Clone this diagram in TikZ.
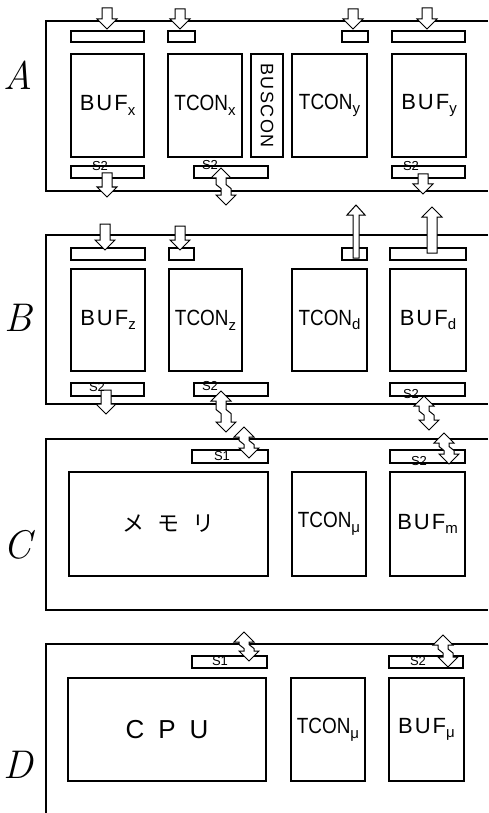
\documentclass[tikz,border=0pt]{standalone}
\usepackage{fontspec}
\newfontfamily\hand{Liberation Sans}
\newfontfamily\cjkfont{Noto Sans CJK JP}
\newcommand\subs[1]{\raisebox{-0.4ex}{\fontsize{15}{15}\selectfont #1}}
\newcommand\bufl[1]{B\hspace{2pt}U\hspace{2pt}F\subs{#1}}
\newcommand\tconl[1]{\scalebox{0.86}[1]{TCON}\subs{#1}}
\tikzset{
  frame/.style={line width=1.2pt, line join=miter},
  box/.style={draw, line width=1.1pt, inner sep=0pt, font=\hand\fontsize{22}{24}\selectfont},
  bar/.style={draw, line width=1.1pt, inner sep=0pt},
  blk/.style={draw, fill=white, line width=1pt, line join=miter},
  sig/.style={font=\hand\fontsize{13}{13}\selectfont, inner sep=0pt},
  sect/.style={font=\itshape\fontsize{40}{40}\selectfont, inner sep=0pt},
  pics/dn/.style={code={\draw[blk] (0,0) -- (10,-10) -- (5,-10) -- (5,-#1) -- (-5,-#1) -- (-5,-10) -- (-10,-10) -- cycle;}},
  pics/upa/.style={code={\draw[blk] (0,0) -- (10,10) -- (5,10) -- (5,#1) -- (-5,#1) -- (-5,10) -- (-10,10) -- cycle;}},
  pics/upthin/.style={code={\draw[blk] (0,0) -- (9,10) -- (3,10) -- (3,#1) -- (-3,#1) -- (-3,10) -- (-9,10) -- cycle;}},
  pics/dbl/.style={code={\draw[blk] (0,0) -- (10,10) -- (5,10) -- (5,{#1/2-2}) -- (10,{#1/2+2}) -- (10,{#1-10}) -- (15,{#1-10}) -- (5,#1) -- (-5,{#1-10}) -- (0,{#1-10}) -- (0,{#1/2+2}) -- (-5,{#1/2-2}) -- (-5,10) -- (-10,10) -- cycle;}},
}
\begin{document}
\begin{tikzpicture}[x=1pt, y=-1pt]
\useasboundingbox (0,0) rectangle (488,813);
\fill[white] (0,0) rectangle (488,813);

% ---------------- section A ----------------
\node[sect] (lA) at (18,75) {A};
\coordinate (fA1) at (488,21); \coordinate (fA2) at (46,21);
\coordinate (fA3) at (46,191); \coordinate (fA4) at (488,191);
\draw[frame] (fA1) -- (fA2) -- (fA3) -- (fA4);

\node[bar, minimum width=73, minimum height=11] (tAx)  at (107.5,36.5) {};
\node[bar, minimum width=27, minimum height=11] (tAtx) at (181.5,36.5) {};
\node[bar, minimum width=26, minimum height=11] (tAty) at (355,36.5) {};
\node[bar, minimum width=73, minimum height=11] (tAy)  at (428.5,36.5) {};

\node[box, minimum width=73, minimum height=103] (bufx)   at (107.5,105.5) {\bufl{x}};
\node[box, minimum width=74, minimum height=103] (tconx)  at (205,105.5) {\tconl{x}};
\node[box, minimum width=32, minimum height=103] (buscon) at (267,105.5) {\rotatebox{-90}{\fontsize{18}{18}\selectfont B\hspace{1.5pt}U\hspace{1.5pt}S\hspace{1.5pt}C\hspace{1.5pt}O\hspace{1.5pt}N}};
\node[box, minimum width=75, minimum height=103] (tcony)  at (329.5,105.5) {\tconl{y}};
\node[box, minimum width=74, minimum height=103] (bufy)   at (429,105.5) {\bufl{y}};

\node[bar, minimum width=73, minimum height=12] (bAx)  at (107.5,172) {};
\node[bar, minimum width=74, minimum height=12] (bAtx) at (231,172) {};
\node[bar, minimum width=73, minimum height=12] (bAy)  at (428.5,172) {};

\pic at (107,29) {dn=21};
\pic at (180,29) {dn=20};
\pic at (353,29) {dn=20};
\pic at (427,29) {dn=21};
\pic at (107,197) {dn=24};
\pic at (221,168) {dbl=37};
\pic at (423,194) {dn=20};
\node[sig] (sAx)  at (100,166) {S2};
\node[sig] (sAtx) at (210,165) {S2};
\node[sig] (sAy)  at (411,166) {S2};

% ---------------- section B ----------------
\node[sect] (lB) at (18,318) {B};
\coordinate (fB1) at (488,235); \coordinate (fB2) at (46,235);
\coordinate (fB3) at (46,404); \coordinate (fB4) at (488,404);
\draw[frame] (fB1) -- (fB2) -- (fB3) -- (fB4);

\node[bar, minimum width=74, minimum height=12] (tBz)  at (108,254) {};
\node[bar, minimum width=25, minimum height=12] (tBtz) at (181.5,254) {};
\node[bar, minimum width=25, minimum height=12] (tBtd) at (354.5,254) {};
\node[bar, minimum width=76, minimum height=12] (tBd)  at (428,254) {};

\node[box, minimum width=74, minimum height=102] (bufz)  at (108,320) {\bufl{z}};
\node[box, minimum width=73, minimum height=102] (tconz) at (205.5,320) {\tconl{z}};
\node[box, minimum width=75, minimum height=102] (tcond) at (329.5,320) {\tconl{d}};
\node[box, minimum width=76, minimum height=102] (bufd)  at (428,320) {\bufl{d}};

\node[bar, minimum width=73, minimum height=13] (bBz)  at (107.5,389.5) {};
\node[bar, minimum width=74, minimum height=13] (bBtz) at (231,389.5) {};
\node[bar, minimum width=75, minimum height=13] (bBd)  at (427.5,389.5) {};

\pic at (105,250) {dn=26};
\pic at (180,250) {dn=24};
\pic at (356,205) {upthin=53};
\pic at (432,207) {upa=46};
\pic at (106,414) {dn=24};
\pic at (221,391) {dbl=41};
\pic at (424,396) {dbl=34};
\node[sig] (sBz)  at (97,387) {S2};
\node[sig] (sBtz) at (210,386) {S2};
\node[sig] (sBd)  at (411,394) {S2};

% ---------------- section C ----------------
\node[sect] (lC) at (18,545) {C};
\coordinate (fC1) at (488,439); \coordinate (fC2) at (46,439);
\coordinate (fC3) at (46,610); \coordinate (fC4) at (488,610);
\draw[frame] (fC1) -- (fC2) -- (fC3) -- (fC4);

\node[bar, minimum width=76, minimum height=13] (tCm) at (230,456.5) {};
\node[bar, minimum width=75, minimum height=13] (tCb) at (427.5,456.5) {};

\node[box, minimum width=199, minimum height=104] (mem)   at (168.5,524) {\cjkfont\fontsize{22}{22}\selectfont メ\hspace{13pt}モ\hspace{13pt}リ\hspace{10pt}};
\node[box, minimum width=74,  minimum height=104] (tconm) at (329,524) {\tconl{μ}};
\node[box, minimum width=75,  minimum height=104] (bufm)  at (427.5,524) {\bufl{m}};

\pic at (244,427) {dbl=31};
\pic at (444,433) {dbl=31};
\node[sig] (sCm) at (222,456) {S1};
\node[sig] (sCb) at (419,461) {S2};

% ---------------- section D ----------------
\node[sect] (lD) at (18,765) {D};
\coordinate (fD1) at (488,644); \coordinate (fD2) at (46,644);
\coordinate (fD3) at (46,813);
\draw[frame] (fD1) -- (fD2) -- (fD3);

\node[bar, minimum width=75, minimum height=12] (tDc) at (229.5,662) {};
\node[bar, minimum width=74, minimum height=12] (tDb) at (426,662) {};

\node[box, minimum width=198, minimum height=103] (cpu)   at (167,729.5) {\fontsize{26}{26}\selectfont C\hspace{14pt}P\hspace{14pt}U\hspace{12pt}};
\node[box, minimum width=74,  minimum height=103] (tconp) at (328,729.5) {\tconl{μ}};
\node[box, minimum width=75,  minimum height=103] (bufp)  at (426.5,729.5) {\bufl{μ}};

\pic at (244,632) {dbl=29};
\pic at (443,635) {dbl=32};
\node[sig] (sDc) at (220,661) {S1};
\node[sig] (sDb) at (418,661) {S2};
\end{tikzpicture}
\end{document}
